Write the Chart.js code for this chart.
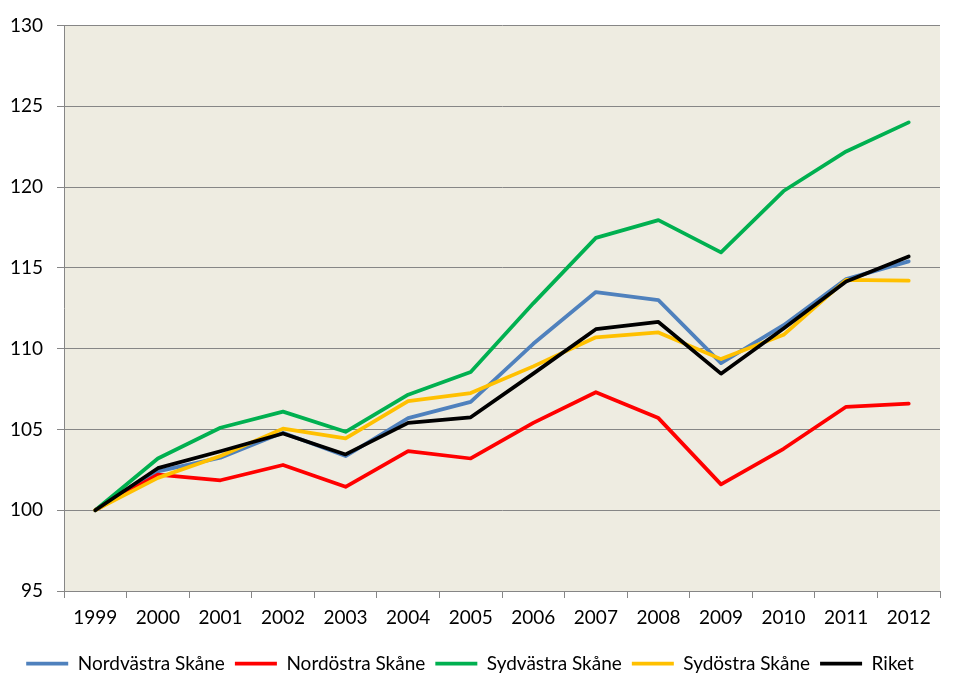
<!DOCTYPE html>
<html>
<head>
<meta charset="utf-8">
<script src="https://cdn.jsdelivr.net/npm/chart.js@4.4.0/dist/chart.umd.min.js"></script>
<style>
html,body{margin:0;padding:0;background:#ffffff;}
#wrap{width:962px;height:692px;position:relative;}
</style>
</head>
<body>
<div id="wrap"><canvas id="c" width="962" height="692"></canvas></div>
<script>
const years = ['1999','2000','2001','2002','2003','2004','2005','2006','2007','2008','2009','2010','2011','2012'];
const nordvastra = [100, 102.4, 103.25, 104.8, 103.35, 105.7, 106.7, 110.3, 113.5, 113.0, 109.1, 111.45, 114.3, 115.4];
const nordostra  = [100, 102.2, 101.85, 102.8, 101.45, 103.65, 103.2, 105.4, 107.3, 105.7, 101.6, 103.8, 106.4, 106.6];
const sydvastra  = [100, 103.2, 105.1, 106.1, 104.85, 107.15, 108.55, 112.8, 116.85, 117.95, 115.95, 119.75, 122.2, 124.0];
const sydostra   = [100, 102.0, 103.35, 105.05, 104.45, 106.75, 107.25, 108.9, 110.7, 111.0, 109.35, 110.85, 114.25, 114.2];
const riket      = [100, 102.6, 103.65, 104.75, 103.45, 105.4, 105.75, 108.45, 111.2, 111.65, 108.45, 111.25, 114.15, 115.7];
const yTicks = [95, 100, 105, 110, 115, 120, 125, 130];

const FONT = 'Lato, "Liberation Sans", Arial, sans-serif';
const GRID = '#868686';

const bgPlugin = {
  id: 'plotBg',
  beforeDraw(chart) {
    const {ctx, chartArea: a} = chart;
    ctx.save();
    ctx.fillStyle = '#EEECE1';
    ctx.fillRect(a.left, a.top, a.right - a.left, a.bottom - a.top);
    ctx.restore();
  }
};

function ds(label, data, color, order) {
  return {
    label, data, order,
    borderColor: color, backgroundColor: color,
    borderWidth: 3.75, pointRadius: 0, pointHoverRadius: 0,
    tension: 0, fill: false,
    borderCapStyle: 'round', borderJoinStyle: 'round'
  };
}

new Chart(document.getElementById('c'), {
  type: 'line',
  data: {
    labels: years,
    datasets: [
      ds('Nordvästra Skåne', nordvastra, '#4F81BD', 4),
      ds('Nordöstra Skåne', nordostra, '#FF0000', 3),
      ds('Sydvästra Skåne', sydvastra, '#00B050', 2),
      ds('Sydöstra Skåne', sydostra, '#FFC000', 1),
      ds('Riket', riket, '#000000', 0)
    ]
  },
  options: {
    responsive: false,
    animation: false,
    events: [],
    layout: { padding: { left: 0, top: 23, right: 22, bottom: 9 } },
    plugins: {
      tooltip: { enabled: false },
      legend: {
        position: 'bottom',
        labels: {
          usePointStyle: true,
          pointStyle: 'line',
          pointStyleWidth: 42,
          boxHeight: 4,
          padding: 10,
          color: '#000000',
          font: { family: FONT, size: 19 },
          sort: (a, b) => a.datasetIndex - b.datasetIndex
        }
      }
    },
    scales: {
      x: {
        offset: true,
        grid: { display: true, offset: true, drawOnChartArea: false, drawTicks: true, tickLength: 7, color: GRID },
        border: { display: true, color: GRID, width: 1 },
        ticks: { color: '#000000', font: { family: FONT, size: 19 }, padding: 8, maxRotation: 0, autoSkip: false },
        afterFit(scale) { scale.height = 53; }
      },
      y: {
        min: 95, max: 130,
        afterBuildTicks(scale) { scale.ticks = yTicks.map(v => ({ value: v })); },
        grid: { color: GRID, lineWidth: 1, tickLength: 7, drawTicks: true },
        border: { display: true, color: GRID, width: 1 },
        ticks: { color: '#000000', font: { family: FONT, size: 19 }, padding: 14 },
        afterFit(scale) { scale.width = 64; }
      }
    }
  },
  plugins: [bgPlugin]
});
</script>
</body>
</html>
